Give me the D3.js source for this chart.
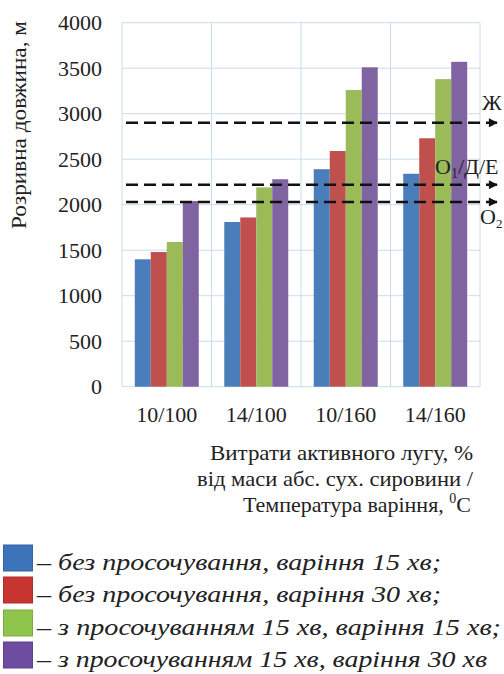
<!DOCTYPE html>
<html>
<head>
<meta charset="utf-8">
<script src="https://cdn.jsdelivr.net/npm/d3@7"></script>
</head>
<body style="margin:0">
<script>
// Розривна довжина по режимах варіння
const categories = ["10/100", "14/100", "10/160", "14/160"];
const seriesNames = [
  "– без просочування, варіння 15 хв;",
  "– без просочування, варіння 30 хв;",
  "– з просочуванням 15 хв, варіння 15 хв;",
  "– з просочуванням 15 хв, варіння 30 хв"
];
const noSoak15 = [1400, 1810, 2390, 2340];
const noSoak30 = [1480, 1860, 2590, 2730];
const soak15 = [1590, 2190, 3260, 3380];
const soak30 = [2040, 2280, 3510, 3570];
const yTicks = [0, 500, 1000, 1500, 2000, 2500, 3000, 3500, 4000];
const refLines = [
  {label: "Ж", value: 2900},
  {label: "О1/Д/Е", value: 2220},
  {label: "О2", value: 2030}
];
const colors = ["#4a7ebb", "#c0504d", "#9bbb59", "#8064a2"];
const legendColors = ["#3d74b9", "#c8342f", "#8fc54c", "#6e4c9f"];

const series = [noSoak15, noSoak30, soak15, soak30];
const FONT = "Liberation Serif";

const W = 504, H = 674;
const svg = d3.select("body").append("svg")
  .attr("width", W)
  .attr("height", H);

const plot = {left: 122, right: 480, top: 22.7, bottom: 386.7};

const x0 = d3.scaleBand()
  .domain(categories)
  .range([plot.left, plot.right])
  .paddingInner(0.285)
  .paddingOuter(0.143);

const x1 = d3.scaleBand()
  .domain(d3.range(series.length))
  .range([0, x0.bandwidth()]);

const y = d3.scaleLinear()
  .domain([0, 4000])
  .range([plot.bottom, plot.top]);

// grid
const grid = svg.append("g").attr("stroke", "#c9dcea").attr("stroke-width", 1);
grid.selectAll(".hg")
  .data(yTicks)
  .enter().append("line")
  .attr("x1", plot.left).attr("x2", plot.right)
  .attr("y1", d => y(d)).attr("y2", d => y(d));

const vBounds = d3.range(categories.length + 1).map(i => plot.left + i * (plot.right - plot.left) / categories.length);
grid.selectAll(".vg")
  .data(vBounds)
  .enter().append("line")
  .attr("x1", d => d).attr("x2", d => d)
  .attr("y1", plot.top).attr("y2", plot.bottom);

// y axis labels
svg.append("g")
  .attr("transform", `translate(${plot.left},0)`)
  .call(d3.axisLeft(y).tickValues(yTicks).tickFormat(d3.format("d")).tickSize(0).tickPadding(20))
  .call(g => g.select(".domain").remove())
  .selectAll("text")
  .attr("font-family", FONT)
  .attr("font-size", 22)
  .attr("fill", "#222");

// bars
const groups = svg.selectAll(".grp")
  .data(categories)
  .enter().append("g")
  .attr("transform", d => `translate(${x0(d)},0)`);

groups.selectAll("rect")
  .data((c, ci) => series.map((s, si) => ({si: si, v: s[ci]})))
  .enter().append("rect")
  .attr("x", d => x1(d.si))
  .attr("y", d => y(d.v))
  .attr("width", x1.bandwidth())
  .attr("height", d => y(0) - y(d.v))
  .attr("fill", d => colors[d.si]);

// x axis labels
svg.append("g")
  .attr("transform", `translate(0,${plot.bottom})`)
  .call(d3.axisBottom(x0).tickSize(0).tickPadding(20))
  .call(g => g.select(".domain").remove())
  .selectAll("text")
  .attr("font-family", FONT)
  .attr("font-size", 22)
  .attr("fill", "#222");

// reference lines with arrows
const defs = svg.append("defs");
defs.append("marker")
  .attr("id", "arrow")
  .attr("viewBox", "0 0 10 10")
  .attr("refX", 9).attr("refY", 5)
  .attr("markerWidth", 4).attr("markerHeight", 3.6)
  .attr("markerUnits", "strokeWidth")
  .attr("orient", "auto")
  .append("path")
  .attr("d", "M0,0 L10,5 L0,10 Z")
  .attr("fill", "#111");

svg.selectAll(".ref")
  .data(refLines)
  .enter().append("line")
  .attr("x1", 126).attr("x2", 497)
  .attr("y1", d => y(d.value)).attr("y2", d => y(d.value))
  .attr("stroke", "#111")
  .attr("stroke-width", 2.5)
  .attr("stroke-dasharray", "12,6")
  .attr("marker-end", "url(#arrow)");

function addText(parent, size) {
  return parent.append("text")
    .attr("font-family", FONT)
    .attr("font-size", size || 22)
    .attr("fill", "#222");
}

// labels for reference lines
addText(svg).attr("x", 482).attr("y", y(refLines[0].value) - 13).text("Ж");
const o1 = addText(svg).attr("x", 435).attr("y", y(refLines[1].value) - 11);
o1.append("tspan").text("О");
o1.append("tspan").attr("font-size", 14).attr("dy", 4).text("1");
o1.append("tspan").attr("dy", -4).text("/Д/Е");
const o2 = addText(svg).attr("x", 480).attr("y", y(refLines[2].value) + 22);
o2.append("tspan").text("О");
o2.append("tspan").attr("font-size", 13).attr("dy", 4).text("2");

// y axis title
addText(svg)
  .attr("transform", "translate(26,125) rotate(-90)")
  .attr("text-anchor", "middle")
  .attr("textLength", 208)
  .attr("lengthAdjust", "spacingAndGlyphs")
  .text("Розривна довжина, м");

// x axis title
addText(svg).attr("x", 210).attr("y", 460)
  .attr("textLength", 263).attr("lengthAdjust", "spacingAndGlyphs")
  .text("Витрати активного лугу, %");
addText(svg).attr("x", 197).attr("y", 486)
  .attr("textLength", 276).attr("lengthAdjust", "spacingAndGlyphs")
  .text("від маси абс. сух. сировини /");
const l3 = addText(svg).attr("x", 243).attr("y", 512);
l3.append("tspan").text("Температура варіння, ");
l3.append("tspan").attr("font-size", 14).attr("dy", -9).text("0");
l3.append("tspan").attr("dy", 9).text("C");

// legend
const rowY = [545, 577, 610, 642];
const rowLen = [404, 404, 464, 450];
seriesNames.forEach((name, i) => {
  svg.append("rect")
    .attr("x", 3.5).attr("y", rowY[i])
    .attr("width", 29).attr("height", 26)
    .attr("fill", legendColors[i])
    .attr("stroke", d3.color(legendColors[i]).darker(0.4))
    .attr("stroke-width", 1);
  addText(svg, 23)
    .attr("x", 37).attr("y", rowY[i] + 25)
    .attr("font-style", "italic")
    .attr("textLength", rowLen[i])
    .attr("lengthAdjust", "spacingAndGlyphs")
    .text(name);
});
</script>
</body>
</html>
